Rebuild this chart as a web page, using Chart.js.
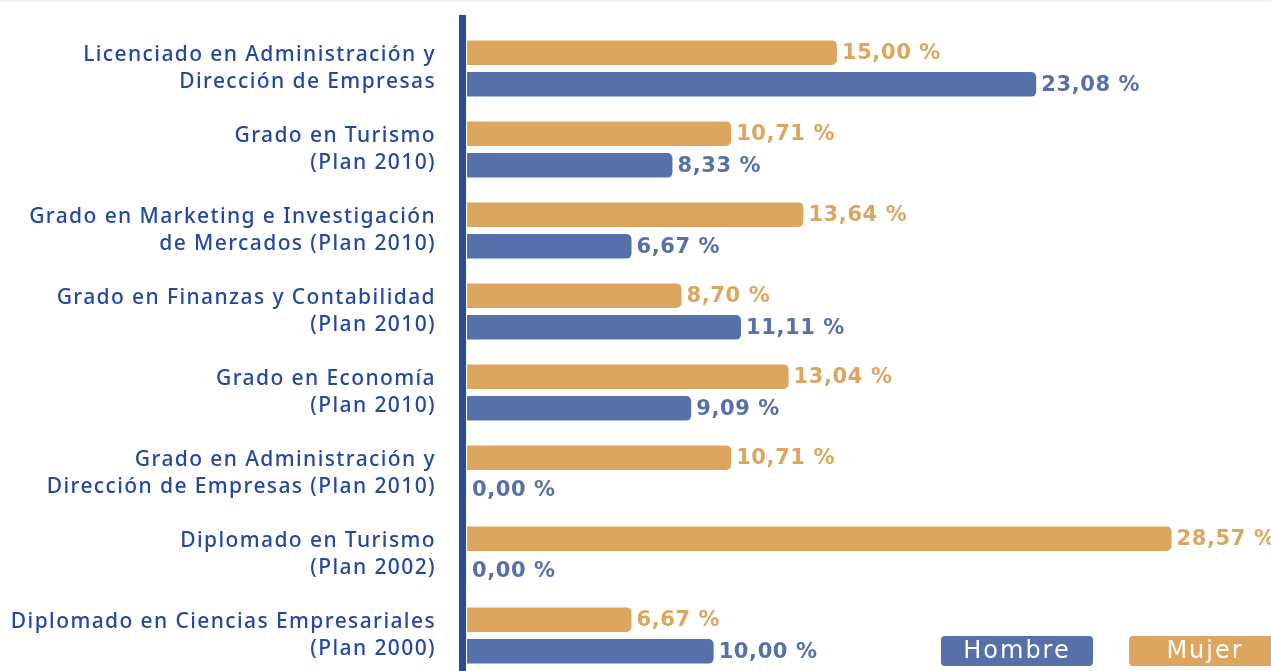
<!DOCTYPE html>
<html>
<head>
<meta charset="utf-8">
<script src="https://cdn.jsdelivr.net/npm/chart.js@4"></script>
<style>
  html, body { margin: 0; padding: 0; background: #fff; overflow: hidden; }
  #wrap { width: 1271px; height: 671px; overflow: hidden; position: relative; }
  #wrap::before { content: ""; position: absolute; left: 0; top: 0; right: 0; height: 2px; background: #f0eefa; }
</style>
</head>
<body>
<div id="wrap"><canvas id="chart" width="1271" height="676"></canvas></div>
<script>
// ── Data ─────────────────────────────────────────────────────────────────────

const CATEGORIES = [
    ["Licenciado en Administración y", "Dirección de Empresas"],
    ["Grado en Turismo", "(Plan 2010)"],
    ["Grado en Marketing e Investigación", "de Mercados (Plan 2010)"],
    ["Grado en Finanzas y Contabilidad", "(Plan 2010)"],
    ["Grado en Economía", "(Plan 2010)"],
    ["Grado en Administración y", "Dirección de Empresas (Plan 2010)"],
    ["Diplomado en Turismo", "(Plan 2002)"],
    ["Diplomado en Ciencias Empresariales", "(Plan 2000)"],
];

const MUJER = [15.00, 10.71, 13.64, 8.70, 13.04, 10.71, 28.57, 6.67];
const HOMBRE = [23.08, 8.33, 6.67, 11.11, 9.09, 0.00, 0.00, 10.00];

const X_MAX = 32.6;

// ── Styles ───────────────────────────────────────────────────────────────────

const ORANGE = "#dda65e";
const BLUE = "#5671aa";
const LABEL_BLUE = "#2447a0";
const AXIS_BLUE = "#2b4b9b";
const FONT = "'Noto Sans', sans-serif";
const NUM_FONT = "'DejaVu Sans', sans-serif";

const fmt = v => v.toFixed(2).replace(".", ",") + " %";

// ── Plugins ──────────────────────────────────────────────────────────────────

// wider tracking for the category labels (canvas resets state on resize)
const tracking = {
    id: "tracking",
    beforeLayout(chart) { chart.ctx.letterSpacing = "1.4px"; },
    beforeDraw(chart) { chart.ctx.letterSpacing = "1.4px"; },
};

const axisLine = {
    id: "axisLine",
    beforeDatasetsDraw(chart) {
        const ctx = chart.ctx;
        const x0 = chart.scales.x.getPixelForValue(0);
        ctx.save();
        ctx.fillStyle = AXIS_BLUE;
        ctx.fillRect(x0 - 8, 15, 7, chart.height - 15);
        ctx.restore();
    },
};

const valueLabels = {
    id: "valueLabels",
    afterDatasetsDraw(chart) {
        const ctx = chart.ctx;
        ctx.save();
        ctx.font = "bold 21px " + NUM_FONT;
        ctx.letterSpacing = "0.6px";
        ctx.textBaseline = "middle";
        ctx.textAlign = "left";
        chart.data.datasets.forEach((ds, di) => {
            const meta = chart.getDatasetMeta(di);
            meta.data.forEach((bar, i) => {
                ctx.fillStyle = ds.backgroundColor;
                ctx.fillText(fmt(ds.data[i]), bar.x + 5, bar.y + 1);
            });
        });
        ctx.restore();
    },
};

const boxLegend = {
    id: "boxLegend",
    afterDraw(chart) {
        const ctx = chart.ctx;
        const items = chart.data.datasets.slice().reverse();
        const w = 152, h = 30, gap = 36;
        let x = 941;
        const y = 636;
        ctx.save();
        ctx.font = "24px " + NUM_FONT;
        ctx.letterSpacing = "2px";
        ctx.textAlign = "center";
        ctx.textBaseline = "middle";
        items.forEach(ds => {
            ctx.fillStyle = ds.backgroundColor;
            ctx.beginPath();
            ctx.roundRect(x, y, w, h, 4);
            ctx.fill();
            ctx.fillStyle = "#ffffff";
            ctx.fillText(ds.label, x + w / 2, y + h / 2 + 1);
            x += w + gap;
        });
        ctx.restore();
    },
};

// ── Chart ────────────────────────────────────────────────────────────────────

new Chart(document.getElementById("chart"), {
    type: "bar",
    data: {
        labels: CATEGORIES,
        datasets: [
            { label: "Mujer", data: MUJER, backgroundColor: ORANGE },
            { label: "Hombre", data: HOMBRE, backgroundColor: BLUE },
        ],
    },
    options: {
        indexAxis: "y",
        responsive: false,
        animation: false,
        layout: { padding: { top: 28, right: 0, bottom: 0, left: 0 } },
        datasets: {
            bar: {
                categoryPercentage: 0.78,
                barPercentage: 0.78,
                borderRadius: 5,
                borderSkipped: "start",
            },
        },
        scales: {
            x: {
                display: false,
                min: 0,
                max: X_MAX,
            },
            y: {
                grid: { display: false, drawTicks: false },
                border: { display: false },
                afterFit(scale) {
                    scale.width = 467;
                    scale.paddingTop = 0;
                    scale.paddingBottom = 0;
                },
                ticks: {
                    padding: 31,
                    color: LABEL_BLUE,
                    font: { family: FONT, size: 21, weight: "500", lineHeight: 1.24 },
                },
            },
        },
        plugins: {
            legend: { display: false },
            tooltip: { enabled: false },
        },
    },
    plugins: [tracking, axisLine, valueLabels, boxLegend],
});
</script>
</body>
</html>
